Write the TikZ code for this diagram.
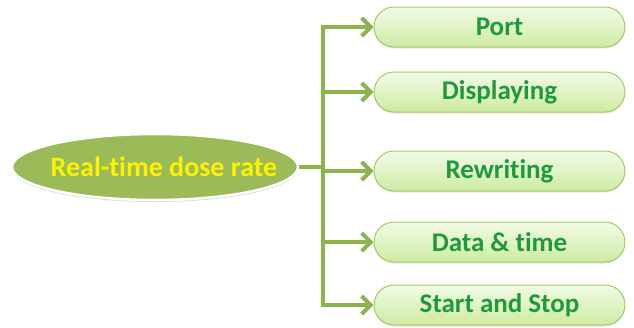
\documentclass[tikz,border=0pt]{standalone}
\usepackage{fontspec}
\setmainfont{Carlito}[Ligatures=NoCommon]
\usetikzlibrary{shapes.geometric,shapes.misc,arrows.meta,shadows}
\definecolor{olive}{HTML}{9BBB59}
\definecolor{linegreen}{HTML}{8DB44C}
\definecolor{boxtop}{HTML}{F2FBE6}
\definecolor{boxbot}{HTML}{CDEBA3}
\definecolor{boxedge}{HTML}{A3CC68}
\definecolor{txtgreen}{HTML}{1E9A3C}
\tikzset{
  mainell/.style={ellipse, fill=olive, draw=white, line width=2.5pt,
    minimum width=286pt, minimum height=66pt, inner sep=0pt,
    drop shadow={shadow xshift=0pt, shadow yshift=-2pt, opacity=0.3}},
  maintext/.style={text=yellow, font=\fontsize{28}{32}\selectfont\bfseries, inner sep=0pt},
  leaf/.style={rounded rectangle, minimum width=251pt, minimum height=40pt,
    inner sep=0pt, draw=boxedge, line width=1pt,
    top color=boxtop, bottom color=boxbot,
    drop shadow={shadow xshift=0pt, shadow yshift=-1.5pt, opacity=0.2},
    text=txtgreen, font=\fontsize{27}{30}\selectfont\bfseries},
  conn/.style={draw=linegreen, line width=4pt},
  arr/.style={conn, -{Straight Barb[length=9pt,width=18pt]}},
}
\begin{document}
\begin{tikzpicture}[x=1pt,y=-1pt]
\useasboundingbox (0,0) rectangle (634,327);
\node[mainell] (root) at (155,167) {};
\node[maintext] (roottext) at ([xshift=9pt]root.center) {Real-time dose rate};
\node[leaf] (port) at (499.5,27) {Port};
\node[leaf] (disp) at (499.5,92) {Displaying};
\node[leaf] (rewr) at (499.5,171) {Rewriting};
\node[leaf] (data) at (499.5,242) {Data \& time};
\node[leaf] (start) at (499.5,305) {Start and Stop};
\coordinate (jt) at (323,27);
\coordinate (jb) at (323,305);
\coordinate (jm) at (323,167);
\draw[conn] (root.east) -- (jm);
\draw[conn] ([yshift=2pt]jt) -- ([yshift=-2pt]jb);
\draw[arr] ([xshift=-2pt]jt) -- (port.west);
\draw[arr] (jt |- disp.west) -- (disp.west);
\draw[arr] (jt |- rewr.west) -- (rewr.west);
\draw[arr] (jt |- data.west) -- (data.west);
\draw[arr] ([xshift=-2pt]jb) -- (start.west);
\end{tikzpicture}
\end{document}
